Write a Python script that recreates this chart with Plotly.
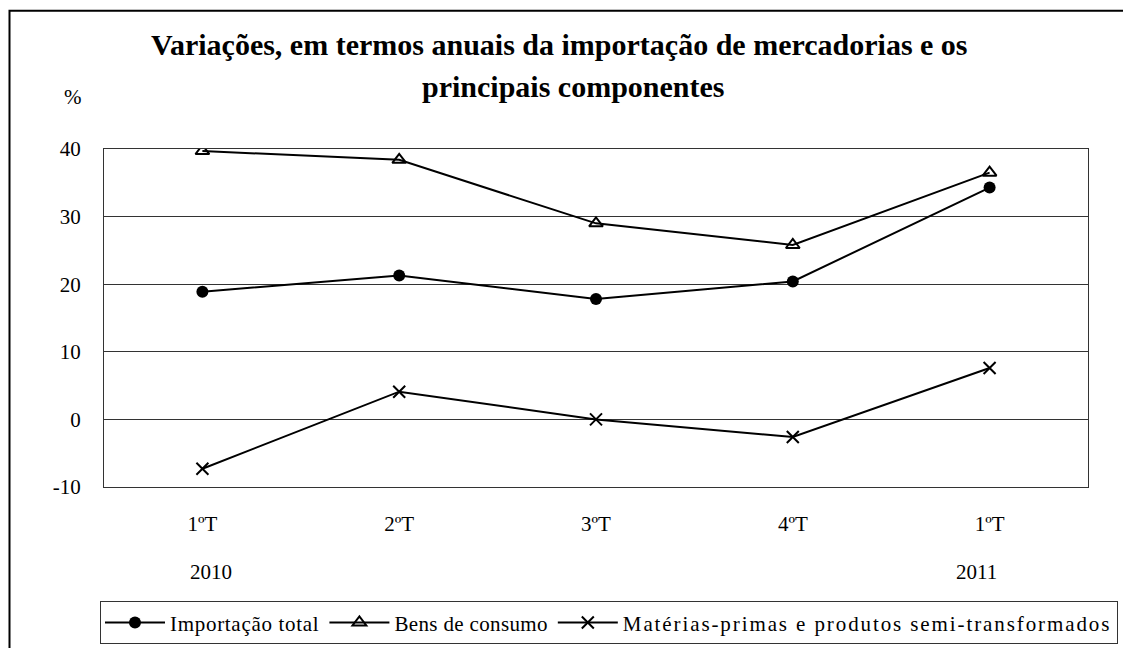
import plotly.graph_objects as go

quarters = ["1ºT", "2ºT", "3ºT", "4ºT", "1ºT"]
years = ["2010", "", "", "", "2011"]
year_shift = [9, 0, 0, 0, -13]

y_tick_vals = [-10, 0, 10, 20, 30, 40]
y_tick_text = ["-10", "0", "10", "20", "30", "40"]

importacao_total = [18.9, 21.3, 17.8, 20.4, 34.3]
bens_consumo = [39.7, 38.4, 29.0, 25.8, 36.5]
materias_primas = [-7.3, 4.1, 0.0, -2.6, 7.6]

series_names = ["<span style=\"letter-spacing:0.7px\">Importação total</span>",
                "<span style=\"letter-spacing:0.35px\">Bens de consumo</span>",
                "<span style=\"letter-spacing:1.9px\">Matérias-primas e produtos semi-transformados</span>"]

FONT = "Liberation Serif, Times New Roman, serif"
W, H = 1131, 648
OFF = 8  # page body margin of the html page
# plot area in page pixels: x 104..1088, y 149..489
L = 104 - OFF
T = 149 - OFF
R = W - (1088 - OFF)
B = H - (489 - OFF)
pw, ph = W - L - R, H - T - B

def px_x(p):
    return (p - OFF - L) / pw

def px_y(p):
    return (H - B - (p - OFF)) / ph

xs = list(range(len(quarters)))

fig = go.Figure()
fig.add_trace(go.Scatter(
    x=xs, y=importacao_total, name=series_names[0], mode="lines+markers",
    legendgroup="g1",
    line=dict(color="black", width=2),
    marker=dict(symbol="circle", size=12, color="black")))
fig.add_trace(go.Scatter(
    x=xs, y=bens_consumo, name=series_names[1], mode="lines+markers",
    legendgroup="g2",
    line=dict(color="black", width=2),
    marker=dict(symbol="triangle-up-open", size=12, color="black",
                line=dict(color="black", width=2))))
fig.add_trace(go.Scatter(
    x=xs, y=materias_primas, name=series_names[2], mode="lines+markers",
    legendgroup="g3",
    line=dict(color="black", width=2),
    marker=dict(symbol="x-thin-open", size=12, color="black",
                line=dict(color="black", width=2))))

annotations = []
for i, (yl, sh) in enumerate(zip(years, year_shift)):
    if yl:
        annotations.append(dict(
            x=i, y=px_y(575), xref="x", yref="paper", text=yl, showarrow=False,
            xshift=sh, xanchor="center", yanchor="middle",
            font=dict(family=FONT, size=21, color="black")))

annotations.append(dict(
    x=px_x(559), y=px_y(44), xref="paper", yref="paper",
    text="<b>Variações, em termos anuais da importação de mercadorias e os</b>",
    showarrow=False, xanchor="center", yanchor="middle",
    font=dict(family=FONT, size=30, color="black")))
annotations.append(dict(
    x=px_x(573), y=px_y(86), xref="paper", yref="paper",
    text="<b>principais componentes</b>",
    showarrow=False, xanchor="center", yanchor="middle",
    font=dict(family=FONT, size=30, color="black")))
annotations.append(dict(
    x=px_x(73), y=px_y(97), xref="paper", yref="paper", text="%",
    showarrow=False, xanchor="center", yanchor="middle",
    font=dict(family=FONT, size=21, color="black")))

frame_l, frame_r = px_x(9.5), px_x(1128)
frame_t, frame_b = px_y(10), px_y(720)
shapes = [dict(
    type="path", xref="paper", yref="paper",
    path=f"M {frame_l} {frame_b} L {frame_l} {frame_t} L {frame_r} {frame_t} L {frame_r} {frame_b}",
    line=dict(color="black", width=2))]

fig.update_layout(
    width=W, height=H,
    margin=dict(l=L, r=R, t=T, b=B),
    paper_bgcolor="white", plot_bgcolor="white",
    font=dict(family=FONT, size=21, color="black"),
    showlegend=True,
    legend=dict(orientation="h", x=px_x(100), y=px_y(604),
                xanchor="left", yanchor="top",
                bordercolor="#333", borderwidth=1,
                font=dict(family=FONT, size=21, color="black"),
                itemwidth=60, tracegroupgap=19),
    xaxis=dict(range=[-0.5, 4.5], tickvals=xs, ticktext=quarters,
               showgrid=False, zeroline=False, showline=True, mirror=True,
               linecolor="#333", linewidth=1, ticks="",
               ticklabelstandoff=18,
               tickfont=dict(family=FONT, size=21, color="black")),
    yaxis=dict(range=[-10, 40], tickvals=y_tick_vals, ticktext=y_tick_text,
               showgrid=True, gridcolor="#333", gridwidth=1,
               zeroline=False, showline=True, mirror=True,
               linecolor="#333", linewidth=1, ticks="",
               ticklabelstandoff=18,
               tickfont=dict(family=FONT, size=21, color="black")),
    annotations=annotations,
    shapes=shapes,
)

fig.write_html("out.html")
